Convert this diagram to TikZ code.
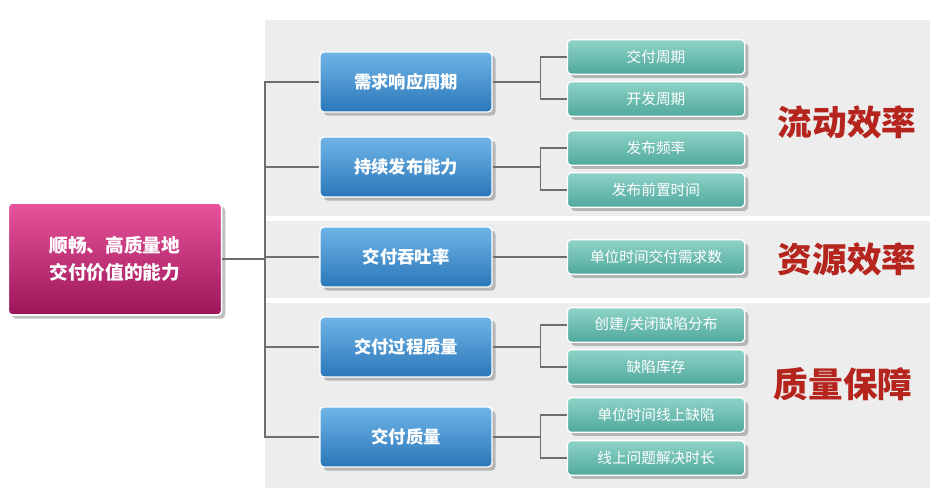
\documentclass[tikz,border=0pt]{standalone}
\usepackage{fontspec}
\setmainfont{Noto Sans CJK SC}
\usetikzlibrary{positioning}
\usetikzlibrary{shadows}

\definecolor{rootTop}{HTML}{E8549C}
\definecolor{rootBot}{HTML}{9C1558}
\definecolor{midTop}{HTML}{6FB4E8}
\definecolor{midBot}{HTML}{2A77B8}
\definecolor{leafTop}{HTML}{8FD3C8}
\definecolor{leafBot}{HTML}{4FA89C}
\definecolor{bandGray}{HTML}{EDEDED}
\definecolor{lineGray}{HTML}{6E6E6E}
\definecolor{tagRed}{HTML}{B5251E}

\tikzset{
  rootbox/.style={draw=white, line width=1.2pt, rounded corners=3pt, top color=rootTop, bottom color=rootBot,
    minimum width=160pt, minimum height=84pt, align=center, text=white, font=\fontsize{14}{20}\selectfont\bfseries, drop shadow},
  midbox/.style={draw=white, line width=1pt, rounded corners=3pt, top color=midTop, bottom color=midBot,
    minimum width=129pt, minimum height=45pt, text=white, font=\fontsize{13}{15}\selectfont\bfseries, drop shadow},
  leafbox/.style={draw=white, line width=1pt, rounded corners=3pt, top color=leafTop, bottom color=leafBot,
    minimum width=133pt, minimum height=26pt, text=white, font=\fontsize{11}{13}\selectfont, drop shadow},
  tag/.style={text=tagRed, font=\fontsize{26}{30}\selectfont\bfseries},
  link/.style={draw=lineGray, line width=0.8pt}
}

\begin{document}
\begin{tikzpicture}[x=0.75pt,y=-0.75pt]
  \useasboundingbox (0,0) rectangle (936,498);
  % bands
  \fill[bandGray] (265,20) rectangle (930,216);
  \fill[bandGray] (265,221) rectangle (930,298);
  \fill[bandGray] (265,303) rectangle (930,488);

  % root
  \node[rootbox] (root) at (115,259) {顺畅、高质量地\\交付价值的能力};

  % middle
  \node[midbox] (m1) at (406,82) {需求响应周期};
  \node[midbox] (m2) at (406,167) {持续发布能力};
  \node[midbox] (m3) at (406,257) {交付吞吐率};
  \node[midbox] (m4) at (406,347) {交付过程质量};
  \node[midbox] (m5) at (406,437) {交付质量};

  % leaves
  \node[leafbox] (l1) at (656,57) {交付周期};
  \node[leafbox] (l2) at (656,99) {开发周期};
  \node[leafbox] (l3) at (656,148) {发布频率};
  \node[leafbox] (l4) at (656,190) {发布前置时间};
  \node[leafbox] (l5) at (656,257) {单位时间交付需求数};
  \node[leafbox] (l6) at (656,325) {创建/关闭缺陷分布};
  \node[leafbox] (l7) at (656,367) {缺陷库存};
  \node[leafbox] (l8) at (656,415) {单位时间线上缺陷};
  \node[leafbox] (l9) at (656,458) {线上问题解决时长};

  % tags
  \node[tag] (t1) at (847,122) {流动效率};
  \node[tag] (t2) at (847,259) {资源效率};
  \node[tag] (t3) at (843,384) {质量保障};

  % connectors
  \coordinate (trunk) at (265,259);
  \draw[link] (root.east) -- (trunk);
  \foreach \m in {m1,m2,m3,m4,m5}
    \draw[link] (trunk) |- (\m.west);
  \foreach \m/\a/\b in {m1/l1/l2,m2/l3/l4,m4/l6/l7,m5/l8/l9} {
    \draw[link] (\m.east) -- ++(48,0) |- (\a.west);
    \draw[link] (\m.east) -- ++(48,0) |- (\b.west);
  }
  \draw[link] (m3.east) -- (l5.west);
\end{tikzpicture}
\end{document}
